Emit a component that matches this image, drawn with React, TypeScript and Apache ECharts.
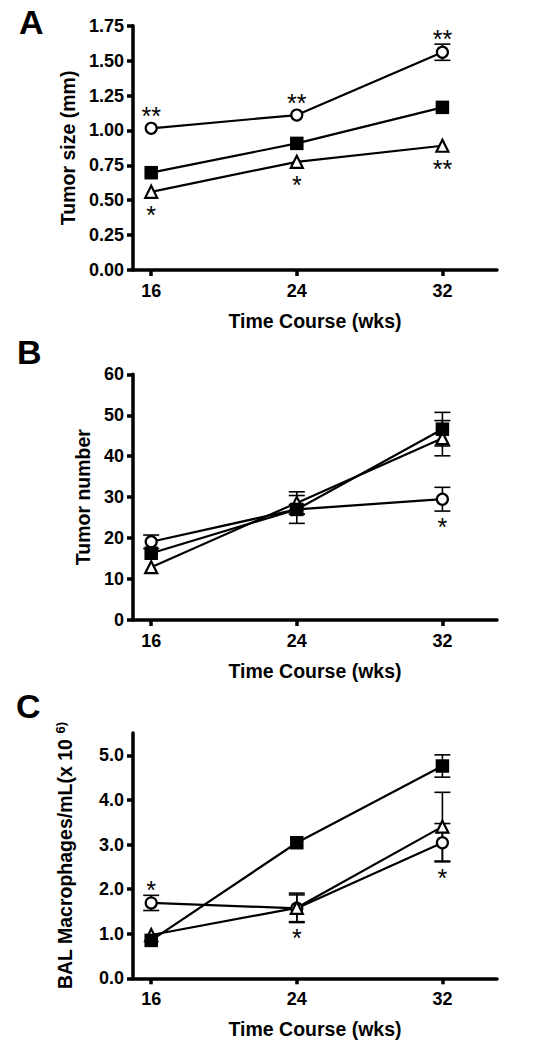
import React, { useEffect, useRef } from "react";
import * as echarts from "echarts";

// ---------- data ----------
const weeks = [16, 24, 32];
const xTicks = [16, 24, 32];

// Panel A: tumor size (mm)  (0 = error bar hidden behind the symbol)
const sizeCircle = [1.015, 1.11, 1.56];
const sizeCircleErr = [0, 0, 0.058];
const sizeCircleStars = ["**", "**", "**"];
const sizeCircleStarSide = ["top", "top", "top"];
const sizeSquare = [0.697, 0.907, 1.165];
const sizeSquareErr = [0, 0, 0];
const sizeTriangle = [0.56, 0.775, 0.89];
const sizeTriangleErr = [0, 0, 0];
const sizeTriangleStars = ["*", "*", "**"];
const sizeTriangleStarSide = ["bottom", "bottom", "bottom"];

// Panel B: tumor number
const numCircle = [19.1, 27.0, 29.5];
const numCircleErr = [1.65, 1.2, 2.9];
const numCircleStars = ["", "", "*"];
const numCircleStarSide = ["bottom", "bottom", "bottom"];
const numSquare = [16.3, 27.0, 46.6];
const numSquareErr = [0, 3.4, 4.1];
const numTriangle = [12.9, 28.6, 44.4];
const numTriangleErr = [0, 2.7, 4.3];

// Panel C: BAL macrophages (x10^6 / mL)
const balCircle = [1.69, 1.57, 3.04];
const balCircleErr = [0.17, 0.3, 0.43];
const balCircleStars = ["*", "*", "*"];
const balCircleStarSide = ["top", "bottom", "bottom"];
const balSquare = [0.85, 3.04, 4.76];
const balSquareErr = [0, 0, 0.25];
const balTriangle = [0.97, 1.58, 3.4];
const balTriangleErr = [0, 0.33, 0.77];

const sizeTicks = [0, 0.25, 0.5, 0.75, 1.0, 1.25, 1.5, 1.75];
const numTicks = [0, 10, 20, 30, 40, 50, 60];
const balTicks = [0, 1, 2, 3, 4, 5];

// ---------- styling ----------
const FONT = "'Liberation Sans', Arial, Helvetica, sans-serif";
const AXIS_W = 3.5;
const TICK_FS = 18;
const TITLE_FS = 19.5;

type Group = {
  vals: number[];
  errs: number[];
  kind: "circle" | "square" | "triangle";
  stars?: string[];
  sides?: string[];
};

function symbolStyle(kind: string) {
  if (kind === "circle")
    return {
      symbol: "circle",
      symbolSize: 11,
      itemStyle: { color: "#fff", borderColor: "#000", borderWidth: 2.2 },
    };
  if (kind === "triangle")
    return {
      symbol: "triangle",
      symbolSize: 12,
      itemStyle: { color: "#fff", borderColor: "#000", borderWidth: 2.2 },
    };
  return {
    symbol: "rect",
    symbolSize: 13.5,
    itemStyle: { color: "#000", borderColor: "#000", borderWidth: 0 },
  };
}

function errSeries(idx: number, g: Group) {
  const stars = g.stars || [];
  const sides = g.sides || [];
  return {
    type: "custom",
    xAxisIndex: idx,
    yAxisIndex: idx,
    z: 1,
    silent: true,
    encode: { x: 0, y: 1 },
    data: weeks.map((w, i) => [w, g.vals[i], g.errs[i]]),
    renderItem: (params: any, api: any) => {
      const x = api.value(0);
      const y = api.value(1);
      const e = api.value(2);
      const c = api.coord([x, y]);
      const t = api.coord([x, y + e]);
      const b = api.coord([x, y - e]);
      const cap = 8;
      const ls = { stroke: "#000", lineWidth: 1.6 };
      const children: any[] = [];
      if (e > 0) {
        children.push(
          { type: "line", shape: { x1: c[0], y1: t[1], x2: c[0], y2: b[1] }, style: ls },
          { type: "line", shape: { x1: c[0] - cap, y1: t[1], x2: c[0] + cap, y2: t[1] }, style: ls },
          { type: "line", shape: { x1: c[0] - cap, y1: b[1], x2: c[0] + cap, y2: b[1] }, style: ls }
        );
      }
      const s = stars[params.dataIndex];
      if (s) {
        const side = sides[params.dataIndex];
        const half = 7;
        let cy: number;
        if (side === "top") {
          const topPx = Math.min(t[1], c[1] - half);
          cy = topPx - 10 + 5;
        } else {
          const botPx = Math.max(b[1], c[1] + half);
          cy = botPx + 11 + 5;
        }
        children.push({
          type: "text",
          style: {
            text: s,
            x: c[0],
            y: cy,
            align: "center",
            verticalAlign: "middle",
            fontSize: 25,
            fontFamily: FONT,
            fontWeight: "normal",
            fill: "#000",
          },
        });
      }
      return { type: "group", children };
    },
  };
}

function lineSeries(idx: number, g: Group) {
  return {
    type: "line",
    xAxisIndex: idx,
    yAxisIndex: idx,
    z: 2,
    data: weeks.map((w, i) => [w, g.vals[i]]),
    lineStyle: { color: "#000", width: 2.2 },
    ...symbolStyle(g.kind),
    showAllSymbol: true,
  };
}

function panelSeries(idx: number, groups: Group[]) {
  return [...groups.map((g) => errSeries(idx, g)), ...groups.map((g) => lineSeries(idx, g))];
}

const titleStyle = { fontFamily: FONT, fontWeight: "bold", fontSize: TITLE_FS, color: "#000" };

function xAxisFor(idx: number) {
  return {
    type: "value",
    gridIndex: idx,
    min: 15,
    max: 35,
    name: "Time Course (wks)",
    nameLocation: "middle",
    nameGap: 41,
    nameTextStyle: titleStyle,
    axisLine: { show: true, onZero: false, lineStyle: { color: "#000", width: AXIS_W } },
    axisTick: { show: true, length: 6, lineStyle: { color: "#000", width: AXIS_W }, customValues: xTicks },
    axisLabel: {
      customValues: xTicks,
      margin: 12,
      fontFamily: FONT,
      fontWeight: "bold",
      fontSize: TICK_FS,
      color: "#000",
    },
    splitLine: { show: false },
  };
}

function yAxisFor(idx: number, opts: any) {
  return {
    type: "value",
    gridIndex: idx,
    nameLocation: "middle",
    nameRotate: 90,
    axisLine: { show: true, onZero: false, lineStyle: { color: "#000", width: AXIS_W } },
    axisTick: { show: true, length: 6, lineStyle: { color: "#000", width: AXIS_W }, customValues: opts.ticks },
    axisLabel: {
      customValues: opts.ticks,
      margin: 9,
      fontFamily: FONT,
      fontWeight: "bold",
      fontSize: TICK_FS,
      color: "#000",
      formatter: opts.fmt,
    },
    splitLine: { show: false },
    ...opts.rest,
  };
}

export default function App() {
  const ref = useRef<HTMLDivElement>(null);
  useEffect(() => {
    document.body.style.margin = "0";
    if (!ref.current) return;
    const chart = echarts.init(ref.current, undefined, { renderer: "svg" });
    const gridW = 364;
    chart.setOption({
      animation: false,
      backgroundColor: "#fff",
      grid: [
        { left: 133, top: 25.7, width: gridW, height: 244.3 },
        { left: 133, top: 374.3, width: gridW, height: 245.7 },
        { left: 133, top: 733, width: gridW, height: 245.3 },
      ],
      xAxis: [xAxisFor(0), xAxisFor(1), xAxisFor(2)],
      yAxis: [
        yAxisFor(0, {
          ticks: sizeTicks,
          fmt: (v: number) => v.toFixed(2),
          rest: {
            min: 0,
            max: 1.75,
            interval: 0.25,
            name: "Tumor size (mm)",
            nameGap: 51,
            nameTextStyle: titleStyle,
          },
        }),
        yAxisFor(1, {
          ticks: numTicks,
          fmt: (v: number) => String(v),
          rest: {
            min: 0,
            max: 60,
            interval: 10,
            name: "Tumor number",
            nameGap: 39,
            nameTextStyle: titleStyle,
          },
        }),
        yAxisFor(2, {
          ticks: balTicks,
          fmt: (v: number) => v.toFixed(1),
          rest: {
            min: 0,
            max: 5.5,
            interval: 1,
            name: "BAL Macrophages/mL(x 10 {sup|6)}",
            nameGap: 58,
            nameTextStyle: {
              ...titleStyle,
              rich: {
                sup: {
                  fontFamily: FONT,
                  fontWeight: "bold",
                  fontSize: 13,
                  color: "#000",
                  verticalAlign: "top",
                  padding: [0, 0, 8, 0],
                },
              },
            },
          },
        }),
      ],
      graphic: [
        { type: "text", left: 19, top: 5, style: { text: "A", fontSize: 34, fontWeight: "bold", fontFamily: FONT, fill: "#000" } },
        { type: "text", left: 17, top: 335, style: { text: "B", fontSize: 34, fontWeight: "bold", fontFamily: FONT, fill: "#000" } },
        { type: "text", left: 16, top: 689, style: { text: "C", fontSize: 34, fontWeight: "bold", fontFamily: FONT, fill: "#000" } },
      ],
      series: [
        ...panelSeries(0, [
          { vals: sizeCircle, errs: sizeCircleErr, kind: "circle", stars: sizeCircleStars, sides: sizeCircleStarSide },
          { vals: sizeTriangle, errs: sizeTriangleErr, kind: "triangle", stars: sizeTriangleStars, sides: sizeTriangleStarSide },
          { vals: sizeSquare, errs: sizeSquareErr, kind: "square" },
        ]),
        ...panelSeries(1, [
          { vals: numCircle, errs: numCircleErr, kind: "circle", stars: numCircleStars, sides: numCircleStarSide },
          { vals: numTriangle, errs: numTriangleErr, kind: "triangle" },
          { vals: numSquare, errs: numSquareErr, kind: "square" },
        ]),
        ...panelSeries(2, [
          { vals: balCircle, errs: balCircleErr, kind: "circle", stars: balCircleStars, sides: balCircleStarSide },
          { vals: balTriangle, errs: balTriangleErr, kind: "triangle" },
          { vals: balSquare, errs: balSquareErr, kind: "square" },
        ]),
      ],
    });
    return () => chart.dispose();
  }, []);
  return <div ref={ref} style={{ width: 536, height: 1050, position: "absolute", left: 0, top: 0 }} />;
}
